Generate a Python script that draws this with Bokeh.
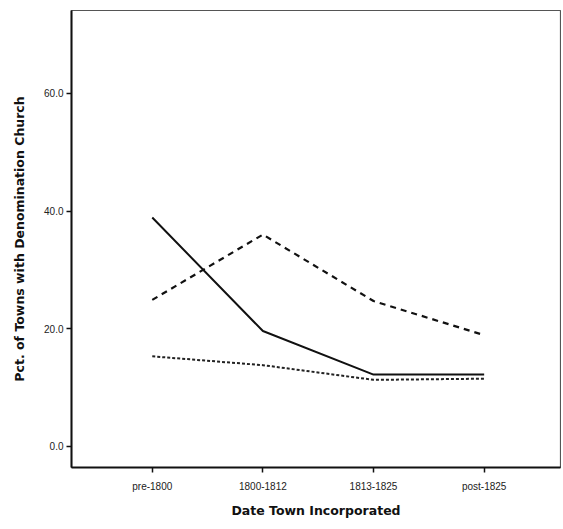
from bokeh.plotting import figure
from bokeh.models import FixedTicker, Range1d, NumeralTickFormatter
from bokeh.embed import file_html
from bokeh.resources import INLINE

categories = ["pre-1800", "1800-1812", "1813-1825", "post-1825"]
series_solid = [38.9, 19.6, 12.2, 12.2]
series_dashed = [24.9, 36.0, 24.7, 18.9]
series_dotted = [15.3, 13.8, 11.3, 11.5]
y_ticks = [0, 20, 40, 60]

xs = list(range(len(categories)))

p = figure(width=561, height=523, output_backend="svg", toolbar_location=None,
           x_range=Range1d(-0.73, 3.69), y_range=Range1d(-3.6, 74.1),
           min_border_left=71, min_border_top=10, min_border_right=1, min_border_bottom=56)

p.line(xs, series_solid, line_color="#111111", line_width=2)
p.line(xs, series_dashed, line_color="#111111", line_width=2.2, line_dash="6 5")
p.line(xs, series_dotted, line_color="#222222", line_width=2, line_dash="3 2")

p.xgrid.visible = False
p.ygrid.visible = False
p.outline_line_color = "#555555"
p.outline_line_width = 1.2

p.xaxis.ticker = FixedTicker(ticks=xs)
p.xaxis.major_label_overrides = {i: c for i, c in enumerate(categories)}
p.yaxis.ticker = FixedTicker(ticks=y_ticks)
p.yaxis.formatter = NumeralTickFormatter(format="0.0")

for ax in (p.xaxis[0], p.yaxis[0]):
    ax.axis_line_width = 2
    ax.axis_line_color = "#111111"
    ax.major_tick_line_color = "#111111"
    ax.major_tick_line_width = 1.5
    ax.major_tick_in = 0
    ax.major_tick_out = 5
    ax.minor_tick_line_color = None
    ax.major_label_text_font = "Liberation Sans"
    ax.major_label_text_font_size = "10px"
    ax.major_label_text_color = "#222222"
    ax.axis_label_text_font = "DejaVu Sans"
    ax.axis_label_text_font_style = "bold"
    ax.axis_label_text_font_size = "12.5px"
    ax.axis_label_text_color = "#111111"

p.xaxis.axis_label = "Date Town Incorporated"
p.yaxis.axis_label = "Pct. of Towns with Denomination Church"
p.xaxis.major_label_standoff = 8
p.xaxis.axis_label_standoff = 8
p.yaxis.major_label_standoff = 3
p.yaxis.axis_label_standoff = 14

open("out.html", "w").write(file_html(p, INLINE))
